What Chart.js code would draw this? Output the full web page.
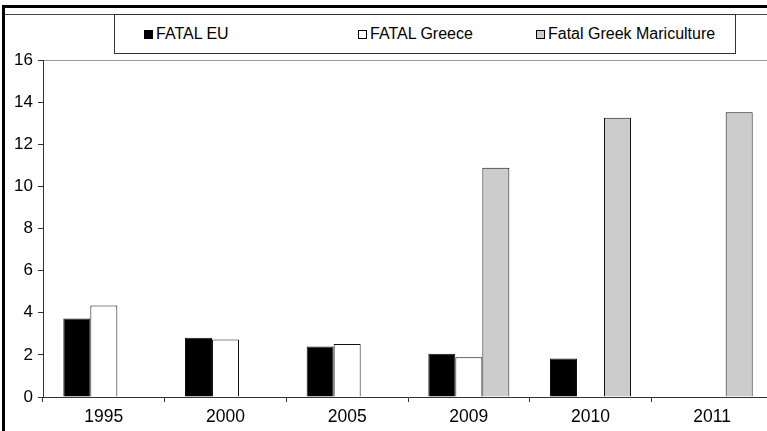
<!DOCTYPE html>
<html>
<head>
<meta charset="utf-8">
<script src="https://cdn.jsdelivr.net/npm/chart.js@4.4.0/dist/chart.umd.min.js"></script>
<style>
	html, body { margin: 0; padding: 0; background: #fff; overflow: hidden; }
	body { width: 767px; height: 431px; position: relative; font-family: 'Liberation Sans', Arial, sans-serif; }
	#frame_top { position: absolute; left: 2px; top: 5px; width: 800px; height: 3px; background: #000; }
	#frame_left { position: absolute; left: 2px; top: 5px; width: 3px; height: 440px; background: #000; }
	#inner_top { position: absolute; left: 5px; top: 14px; width: 800px; height: 1px; background: #444; }
	#legend { position: absolute; left: 114px; top: 14px; width: 620px; height: 38px; border: 1px solid #333; }
	#legend .item { position: absolute; top: 0; height: 38px; display: flex; align-items: center; font-size: 16px; color: #000; white-space: nowrap; }
	#legend .swatch { width: 7px; height: 7px; border: 1px solid #000; margin-right: 3px; }
	canvas { position: absolute; left: 0; top: 0; }
</style>
</head>
<body>
<div id="frame_top"></div>
<div id="frame_left"></div>
<div id="inner_top"></div>
<div id="legend"></div>
<canvas id="fatal_chart" width="790" height="431"></canvas>
<script>
// categories and series
const categories = ['1995', '2000', '2005', '2009', '2010', '2011']
const fatalEU = [3.73, 2.81, 2.40, 2.05, 1.83, null]
const fatalGreece = [4.35, 2.73, 2.52, 1.89, null, null]
const fatalMariculture = [null, null, null, 10.88, 13.26, 13.52]
const seriesLabels = ['FATAL EU', 'FATAL Greece', 'Fatal Greek Mariculture']
const seriesColors = ['#000000', '#ffffff', '#cccccc']
const yMin = 0
const yMax = 16
const yStep = 2

// legend items horizontal offsets inside the box
const legendOffsets = [29, 243, 421]

const FONT_FAMILY = "'Liberation Sans', Arial, sans-serif"

const datasets = [fatalEU, fatalGreece, fatalMariculture].map((values, i) => ({
	label: seriesLabels[i],
	data: values,
	backgroundColor: seriesColors[i],
	borderColor: '#111',
	borderWidth: 1,
	categoryPercentage: 0.666,
	barPercentage: 1,
}))

const options = {
	type: 'bar',
	data: { labels: categories, datasets: datasets },
	options: {
		responsive: false,
		animation: false,
		layout: { padding: { top: 60, right: 17, left: 0, bottom: 0 } },
		plugins: { legend: { display: false }, tooltip: { enabled: false } },
		scales: {
			x: {
				grid: { offset: true, drawOnChartArea: false, tickLength: 5, color: '#333' },
				border: { color: '#333', width: 1 },
				ticks: { color: '#000', font: { family: FONT_FAMILY, size: 17.5 }, padding: 5, maxRotation: 0 },
				afterFit: scale => { scale.height = 34 },
			},
			y: {
				min: yMin,
				max: yMax,
				ticks: { stepSize: yStep, color: '#000', font: { family: FONT_FAMILY, size: 17 }, padding: 5 },
				grid: {
					tickLength: 5,
					tickColor: '#333',
					// only the top line crosses the plot
					color: ctx => (ctx.tick && ctx.tick.value === yMax ? '#999' : 'rgba(0,0,0,0)'),
				},
				border: { color: '#333', width: 1 },
				afterFit: scale => { scale.width = 43 },
			},
		},
	},
}

const ctx = document.getElementById('fatal_chart')
const fatalChart = new Chart(ctx, options)

// html legend built from the same labels and colours
const LEGEND = document.getElementById('legend')
seriesLabels.forEach((label, i) => {
	let item = document.createElement('div')
	item.className = 'item'
	item.style.left = legendOffsets[i] + 'px'
	let swatch = document.createElement('span')
	swatch.className = 'swatch'
	swatch.style.background = seriesColors[i]
	let text = document.createElement('span')
	text.innerText = label
	item.appendChild(swatch)
	item.appendChild(text)
	LEGEND.appendChild(item)
})
</script>
</body>
</html>
